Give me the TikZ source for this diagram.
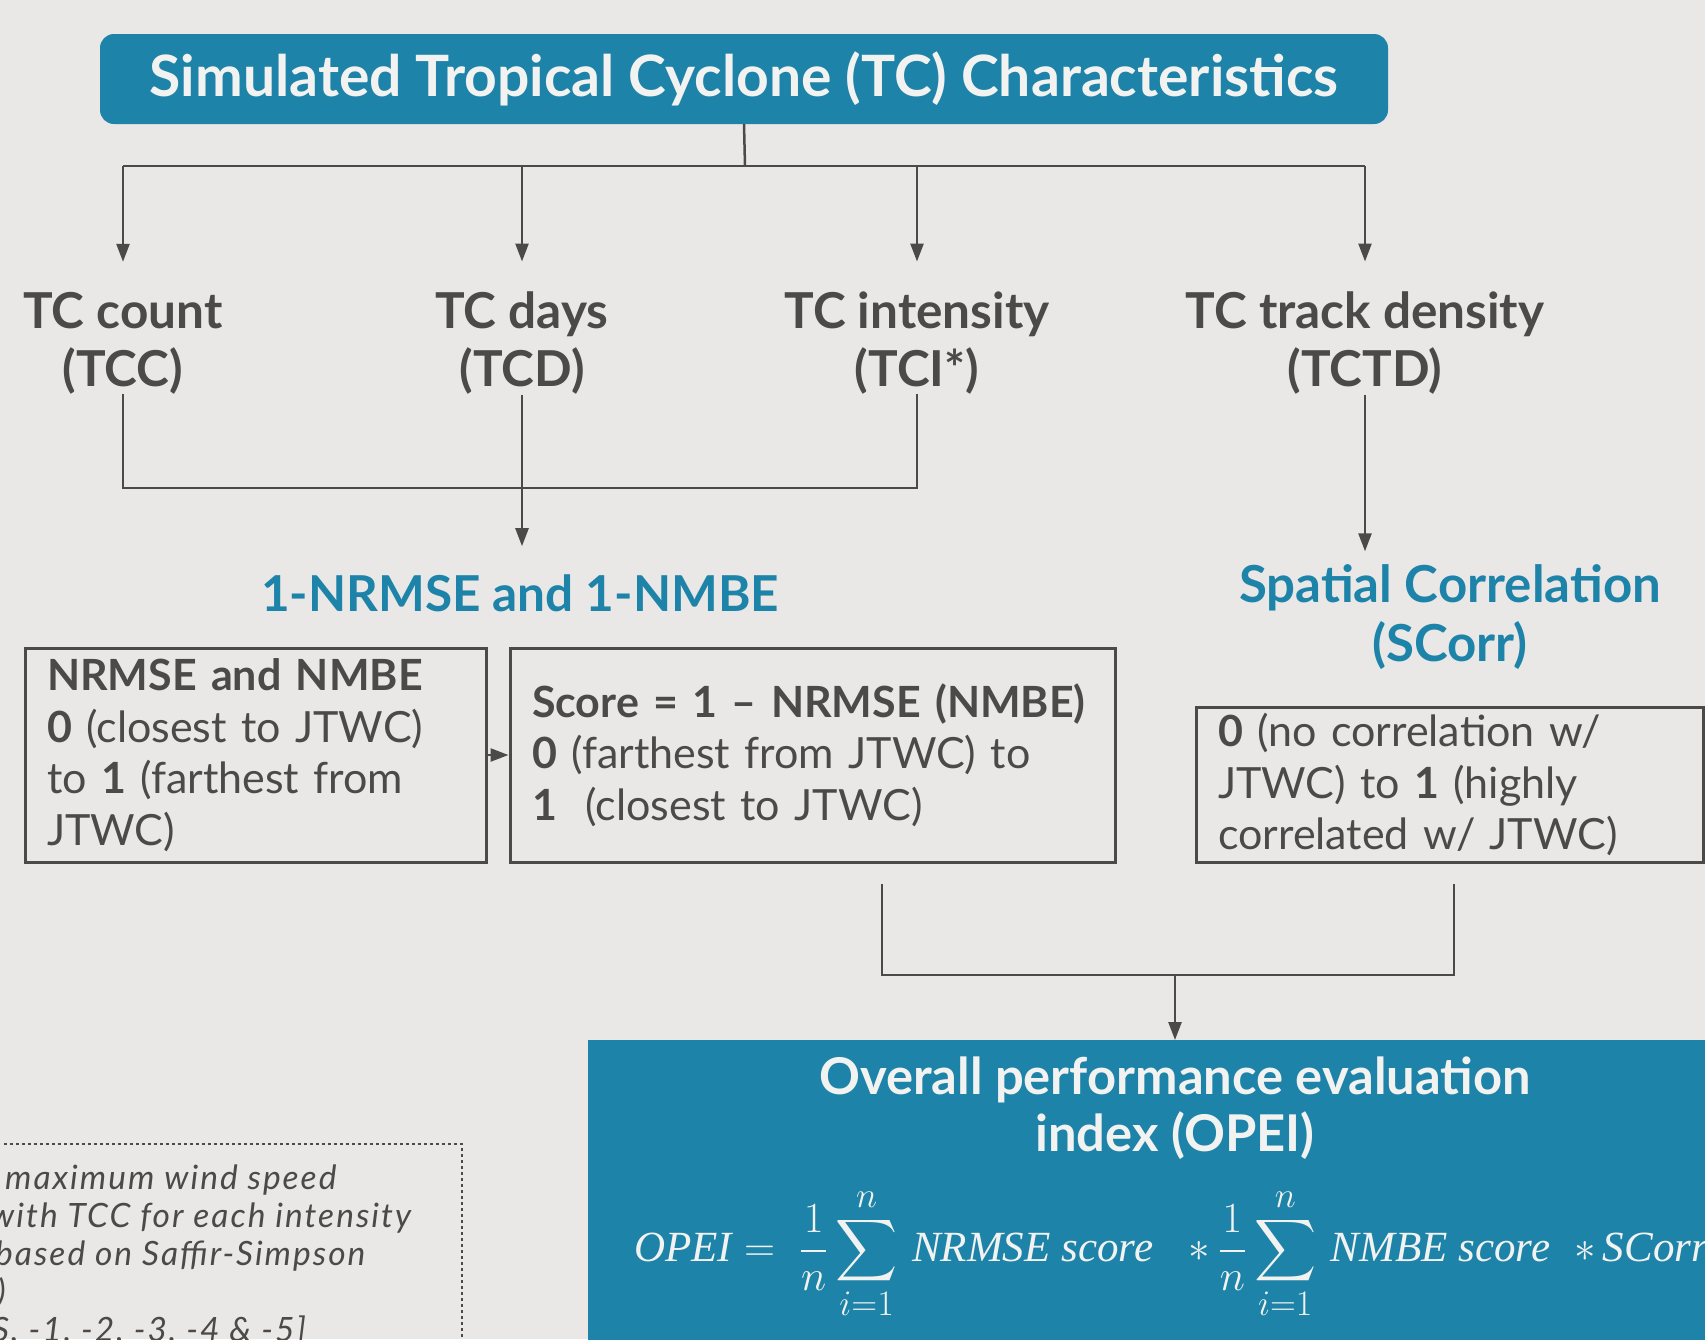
\documentclass[tikz,border=0pt]{standalone}
\usepackage{amsmath}
\usepackage{exscale}
\usepackage{fontspec}
\usepackage{graphicx}
\setmainfont{Lato}
\newfontfamily\notefont[LetterSpace=6]{Lato}
\newfontfamily\formfont{Liberation Serif}
\newcommand{\fm}[1]{\mbox{\formfont\itshape #1}}
\usetikzlibrary{arrows.meta}

\definecolor{paper}{HTML}{E9E8E6}
\definecolor{tcblue}{HTML}{1D83A9}
\definecolor{ink}{HTML}{4B4A49}
\definecolor{snow}{HTML}{F2F2F0}

\begin{document}
\begin{tikzpicture}[
  x=1pt, y=-1pt,
  line/.style={draw=ink, line width=2.5pt},
  arr/.style={line, -{Triangle[length=18pt,width=13pt]}},
  head/.style={fill=tcblue, text=snow, rounded corners=14pt, minimum width=1288pt, minimum height=90pt, font=\fontsize{57}{64}\selectfont\bfseries},
  metric/.style={text=ink, align=center, inner sep=0pt, font=\fontsize{49.5}{58}\selectfont\bfseries},
  stat/.style={text=tcblue, align=center, inner sep=0pt, font=\fontsize{50}{59}\selectfont\bfseries},
  textbox/.style={draw=ink, line width=3pt, text=ink, align=left, inner xsep=22pt, inner ysep=0pt, font=\fontsize{43}{51.6}\selectfont},
  notebox/.style={draw=ink, line width=2.5pt, dash pattern=on 2.5pt off 3.5pt},
  note/.style={text=ink, align=left, inner sep=0pt, font=\notefont\itshape\fontsize{33.5}{38}\selectfont}
]
\useasboundingbox (0,0) rectangle (1705,1339);
\clip (0,0) rectangle (1705,1339);
\fill[paper] (0,0) rectangle (1705,1339);

% characteristics
\node[head] (sim) at (744,79) {Simulated Tropical Cyclone (TC) Characteristics};
\node[metric] (tcc) at (123,343) {TC count\\(TCC)};
\node[metric] (tcd) at (522,343) {TC days\\(TCD)};
\node[metric] (tci) at (917,343) {TC intensity\\(TCI*)};
\node[metric] (tctd) at (1365,343) {TC track density\\(TCTD)};

\coordinate (fork) at (745,166);
\draw[line] (sim.south) -- (fork);
\draw[line] (fork -| tcc) -- (fork -| tctd);
\foreach \m in {tcc,tcd,tci,tctd}
  \draw[arr] (fork -| \m) -- ([yshift=30pt]\m.north);

% metrics
\node[stat, font=\fontsize{49.5}{59}\selectfont\bfseries] (nrm) at (520,593) {1-NRMSE and 1-NMBE};
\node[stat, font=\fontsize{51}{59}\selectfont\bfseries] (scorr) at (1450,617) {Spatial Correlation\\(SCorr)};
\coordinate (nrmtop) at ([yshift=28pt]nrm.north);
\coordinate (sctop) at ([yshift=13pt]scorr.north);

\coordinate (join) at (522,488);
\draw[line] (tcc.south) |- (tci.south |- join) -- (tci.south);
\draw[arr] (tcd.south) -- (tcd.south |- nrmtop);
\draw[arr] (tctd.south) -- (tctd.south |- sctop);

\node[textbox, text width=417pt, minimum height=214pt] (nbox) at (255.5,755)
  {\textbf{NRMSE and NMBE}\\\textbf{0} (closest to JTWC)\\to \textbf{1} (farthest from\\JTWC)};
\node[textbox, text width=561pt, minimum height=214pt] (sbox) at (812.5,755)
  {\textbf{Score = 1 – NRMSE (NMBE)}\\\textbf{0} (farthest from JTWC) to\\\textbf{1}\ \ (closest to JTWC)};
\node[textbox, text width=463pt, minimum height=155pt] (cbox) at (1449.5,784.5)
  {\textbf{0} (no correlation w/\\JTWC) to \textbf{1} (highly\\correlated w/ JTWC)};
\draw[arr] (nbox.east) -- (sbox.west);

% overall index
\node[fill=tcblue, anchor=north west, minimum width=1200pt, minimum height=320pt, inner sep=0pt] (opei) at (588,1040) {};
\node[stat, text=snow, font=\fontsize{50.7}{57}\selectfont\bfseries] (opeititle) at (1175,1108)
  {Overall performance evaluation\\index (OPEI)};
\node[text=snow, anchor=west, inner sep=0pt, font=\Huge] (form) at (634,1254)
  {\scalebox{1.73}{$\displaystyle \fm{OPEI}=\;\frac{1}{n}\sum_{i=1}^{n}\,\fm{NRMSE score}\;\;\;{*}\,\frac{1}{n}\sum_{i=1}^{n}\,\fm{NMBE score}\;\;{*}\,\fm{SCorr}$}};

\coordinate (sdrop) at (882,884);
\coordinate (cdrop) at (1454,884);
\coordinate (merge) at (1175,975);
\draw[line] (sdrop) |- (cdrop |- merge) -- (cdrop);
\draw[arr] (merge) -- (merge |- opei.north);

% intensity note
\draw[notebox] (-20,1144) -| (462,1360);
\node[note, anchor=north west] (tcinote) at (-10,1165)
  {\hspace{15pt}maximum wind speed\\with TCC for each intensity\\\hspace{5pt}based on Saffir-Simpson\\\hspace{7pt})\\\hspace{2pt}S, -1, -2, -3, -4 \& -5]};
\end{tikzpicture}
\end{document}
